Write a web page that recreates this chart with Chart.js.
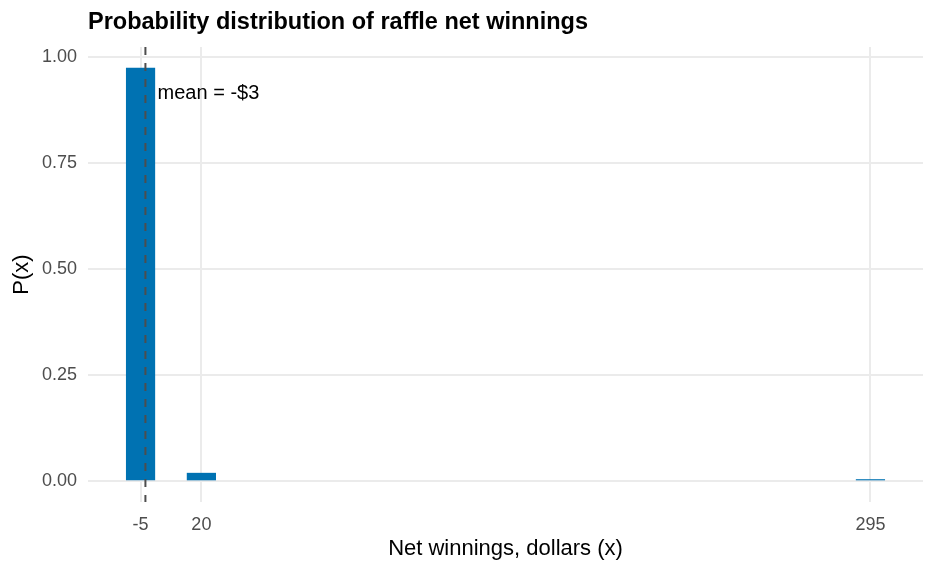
<!DOCTYPE html>
<html>
<head>
<meta charset="utf-8">
<script src="https://cdn.jsdelivr.net/npm/chart.js@4/dist/chart.umd.min.js"></script>
<style>
  html, body { margin: 0; padding: 0; background: #ffffff; }
  #wrap { width: 936px; height: 572px; }
</style>
</head>
<body>
<div id="wrap"><canvas id="c" width="936" height="572"></canvas></div>
<script>
// ---- data ----
const xValues = [-5, 20, 295];
const probabilities = [0.975, 0.02, 0.005];
const xTicks = [-5, 20, 295];
const xTickLabels = ['-5', '20', '295'];
const yTicks = [0, 0.25, 0.5, 0.75, 1.0];
const yTickLabels = ['0.00', '0.25', '0.50', '0.75', '1.00'];
const meanValue = -3;
const meanLabel = 'mean = -$3';
const meanLabelX = meanValue + 5;
const meanLabelY = 0.915;
const titleText = 'Probability distribution of raffle net winnings';
const xTitle = 'Net winnings, dollars (x)';
const yTitle = 'P(x)';

const FONT = "'Liberation Sans', Arial, sans-serif";

const meanPlugin = {
  id: 'meanLine',
  afterDatasetsDraw(chart) {
    const {ctx, chartArea, scales} = chart;
    const x = scales.x.getPixelForValue(meanValue);
    ctx.save();
    ctx.strokeStyle = '#4d4d4d';
    ctx.lineWidth = 2;
    ctx.setLineDash([8, 8]);
    ctx.beginPath();
    ctx.moveTo(x, chartArea.top);
    ctx.lineTo(x, chartArea.bottom);
    ctx.stroke();
    ctx.setLineDash([]);
    ctx.fillStyle = '#000000';
    ctx.font = '20px ' + FONT;
    ctx.textAlign = 'left';
    ctx.textBaseline = 'middle';
    ctx.fillText(meanLabel, scales.x.getPixelForValue(meanLabelX), scales.y.getPixelForValue(meanLabelY));
    ctx.restore();
  }
};

new Chart(document.getElementById('c'), {
  type: 'bar',
  data: {
    datasets: [{
      data: xValues.map((x, i) => ({x: x, y: probabilities[i]})),
      backgroundColor: '#0072B2',
      borderWidth: 0,
      categoryPercentage: 0.6,
      barPercentage: 0.8
    }]
  },
  options: {
    responsive: false,
    animation: false,
    devicePixelRatio: 1,
    layout: { padding: { left: 0, right: 13, top: 0, bottom: 0 } },
    plugins: {
      legend: { display: false },
      tooltip: { enabled: false },
      title: {
        display: true,
        text: titleText,
        align: 'start',
        fullSize: false,
        color: '#000000',
        font: { family: FONT, size: 23.5, weight: 'bold', lineHeight: 1.2 },
        padding: { top: 8.9, bottom: 9.9 }
      }
    },
    scales: {
      x: {
        type: 'linear',
        min: -26.6,
        max: 316.6,
        offset: false,
        grid: { offset: false, color: '#ebebeb', lineWidth: 2, drawTicks: false },
        border: { display: false },
        afterBuildTicks(scale) { scale.ticks = xTicks.map(v => ({value: v})); },
        afterFit(scale) { scale.height = 70; },
        ticks: {
          padding: 12,
          color: '#4d4d4d',
          font: { family: FONT, size: 18 },
          maxRotation: 0,
          autoSkip: false,
          callback: (v) => { const i = xTicks.indexOf(v); return i >= 0 ? xTickLabels[i] : ''; }
        },
        title: {
          display: true,
          text: xTitle,
          color: '#000000',
          font: { family: FONT, size: 22, lineHeight: 1.2 },
          padding: { top: 0, bottom: 10.3 }
        }
      },
      y: {
        type: 'linear',
        min: -0.04875,
        max: 1.02375,
        grid: { color: '#ebebeb', lineWidth: 2, drawTicks: false },
        border: { display: false },
        afterBuildTicks(scale) { scale.ticks = yTicks.map(v => ({value: v})); },
        afterFit(scale) { scale.width = 88; },
        ticks: {
          padding: 11,
          color: '#4d4d4d',
          font: { family: FONT, size: 18 },
          callback: (v) => { const i = yTicks.indexOf(v); return i >= 0 ? yTickLabels[i] : ''; }
        },
        title: {
          display: true,
          text: yTitle,
          color: '#000000',
          font: { family: FONT, size: 22, lineHeight: 1.2 },
          padding: { top: 9.1, bottom: 0 }
        }
      }
    }
  },
  plugins: [meanPlugin]
});
</script>
</body>
</html>
